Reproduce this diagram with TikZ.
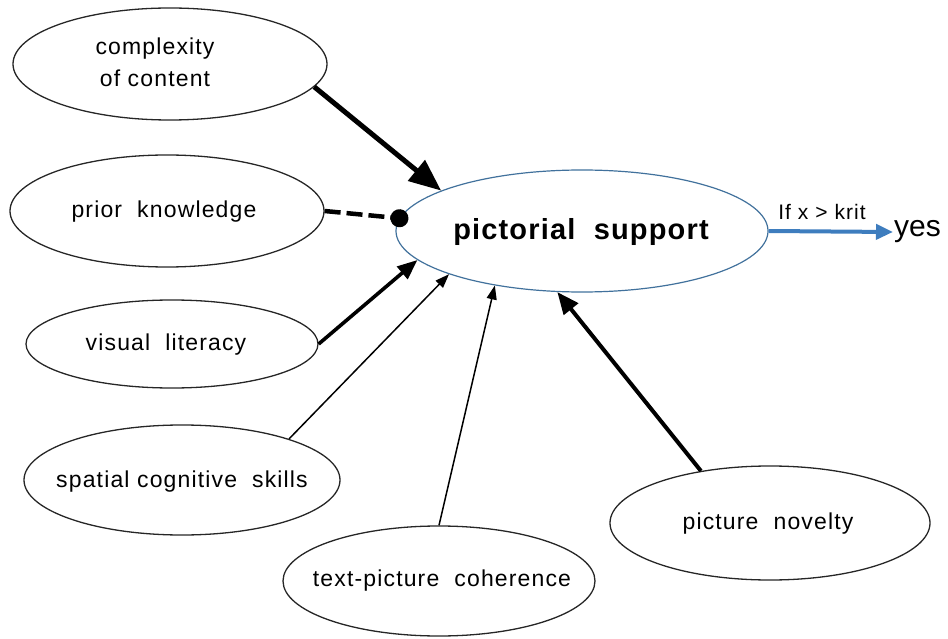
\documentclass[tikz,border=0pt]{standalone}
\usepackage{fontspec}
\setmainfont{Liberation Sans}
\newfontfamily\lblfont[LetterSpace=5]{Liberation Sans}
\newfontfamily\psfont[LetterSpace=4]{Liberation Sans}
\usetikzlibrary{shapes.geometric,arrows.meta}
\definecolor{psblue}{RGB}{65,113,156}
\definecolor{arrblue}{RGB}{62,125,190}
\begin{document}
\begin{tikzpicture}[x=1pt,y=-1pt,
  ell/.style={ellipse,draw=black!85,line width=1.3pt,inner sep=0pt},
  lbl/.style={font={\lblfont\fontsize{23}{32}\selectfont},align=center,inner sep=0pt},
  thick arrow/.style={line width=3.6pt,-{Triangle[length=20pt,width=16pt]}},
  thin arrow/.style={line width=1.5pt,-{Triangle[length=14pt,width=10pt]}},
  heavy arrow/.style={line width=5pt,-{Triangle[length=32pt,width=26pt]}}]
\useasboundingbox (0,0) rectangle (948,639);

% ellipses
\node[ell,minimum width=314pt,minimum height=112pt] (c1) at (170,64) {};
\node[ell,minimum width=314pt,minimum height=112pt] (c2) at (167,211) {};
\node[ell,minimum width=292pt,minimum height=88pt] (c3) at (172,344) {};
\node[ell,minimum width=316pt,minimum height=110pt] (c4) at (182,480) {};
\node[ell,minimum width=312pt,minimum height=110pt] (c5) at (439,581) {};
\node[ell,minimum width=320pt,minimum height=114pt] (c6) at (770,523) {};
\node[ellipse,draw=psblue,line width=1.2pt,inner sep=0pt,minimum width=372pt,minimum height=122pt] (ps) at (582,231) {};

% labels
\node[lbl] (t1) at (155,62) {complexity\\of content};
\node[lbl] (t2) at (164,212) {prior\ \ knowledge};
\node[lbl] (t3) at (166,345) {visual\ \ literacy};
\node[lbl] (t4) at (182,482) {spatial cognitive\ \ skills};
\node[lbl] (t5) at (442,581) {text-picture\ \ coherence};
\node[lbl] (t6) at (768,524) {picture\ \ novelty};
\node[inner sep=0pt,font={\psfont\fontsize{29}{32}\selectfont\bfseries}] (t7) at (581,232) {pictorial\ \ support};

\node[inner sep=1pt,anchor=west,font=\fontsize{30}{34}\selectfont] (yes) at (893,232) {yes};
\node[inner sep=0pt,font={\lblfont\fontsize{21}{24}\selectfont}] (cond) at (822,212) {If x > krit};

% connectors
\draw[heavy arrow] (c1.-9) -- (ps.164);
\draw[line width=4.5pt,dash pattern=on 16pt off 6pt,-{Circle[length=18pt]},shorten >=-9pt] (c2.east) -- (ps.176);
\draw[thick arrow] (c3.east) -- (ps.190);
\draw[thin arrow] (c4.21) -- (ps.198);
\draw[thin arrow] (c5.north) -- (ps.212);
\draw[line width=4pt,-{Triangle[length=22pt,width=18pt]}] (c6.143) -- (ps.248);
\draw[arrblue,line width=4pt,-{Triangle[length=17pt,width=15pt]}] (ps.east) -- (yes.west);
\end{tikzpicture}
\end{document}
